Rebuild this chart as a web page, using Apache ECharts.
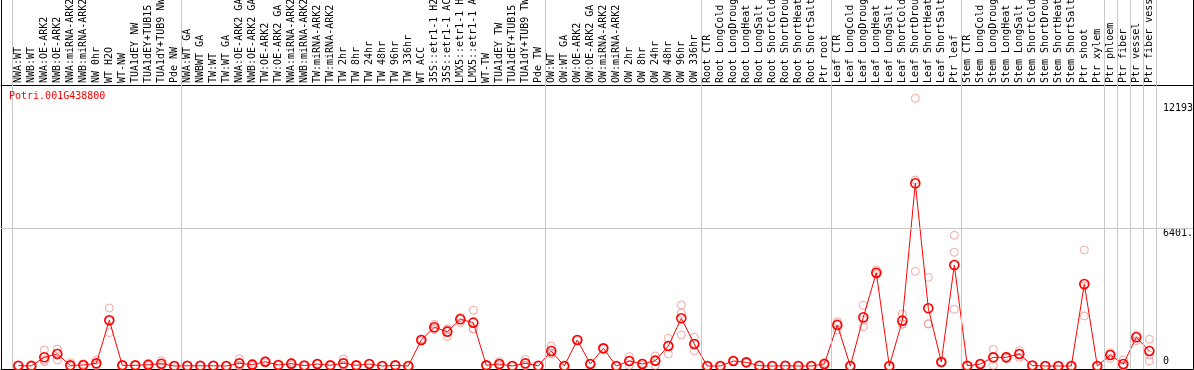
<!DOCTYPE html>
<html>
<head>
<meta charset="utf-8">
<script src="https://cdn.jsdelivr.net/npm/echarts@6/dist/echarts.min.js"></script>
<style>
  html, body { margin: 0; padding: 0; background: #fff; }
  #chart { width: 1194px; height: 370px; }
</style>
</head>
<body>
<div id="chart"></div>
<script>
const gene = 'Potri.001G438800';

const categories = [
  'NWA:WT', 'NWB:WT', 'NWA:OE-ARK2', 'NWB:OE-ARK2', 'NWA:miRNA-ARK2', 'NWB:miRNA-ARK2',
  'NW 0hr', 'WT H2O', 'WT-NW', 'TUA1dEY NW', 'TUA1dEY+TUB15 NW', 'TUA1dY+TUB9 NW', 'Pde NW',
  'NWA:WT GA', 'NWBWT GA', 'TW:WT', 'TW:WT GA', 'NWA:OE-ARK2 GA', 'NWB:OE-ARK2 GA',
  'TW:OE-ARK2', 'TW:OE-ARK2 GA', 'NWA:miRNA-ARK2 GA', 'NWB:miRNA-ARK2 GA', 'TW:miRNA-ARK2',
  'TW:miRNA-ARK2', 'TW 2hr', 'TW 8hr', 'TW 24hr', 'TW 48hr', 'TW 96hr', 'TW 336hr', 'WT ACC',
  '35S::etr1-1 H2O', '35S::etr1-1 ACC', 'LMX5::etr1-1 H2O', 'LMX5::etr1-1 ACC', 'WT-TW',
  'TUA1dEY TW', 'TUA1dEY+TUB15 TW', 'TUA1dY+TUB9 TW', 'Pde TW',
  'OW:WT', 'OW:WT GA', 'OW:OE-ARK2', 'OW:OE-ARK2 GA', 'OW:miRNA-ARK2', 'OW:miRNA-ARK2',
  'OW 2hr', 'OW 8hr', 'OW 24hr', 'OW 48hr', 'OW 96hr', 'OW 336hr',
  'Root CTR', 'Root LongCold', 'Root LongDrought', 'Root LongHeat', 'Root LongSalt',
  'Root ShortCold', 'Root ShortDrought', 'Root ShortHeat', 'Root ShortSalt', 'Ptr root',
  'Leaf CTR', 'Leaf LongCold', 'Leaf LongDrought', 'Leaf LongHeat', 'Leaf LongSalt',
  'Leaf ShortCold', 'Leaf ShortDrought', 'Leaf ShortHeat', 'Leaf ShortSalt', 'Ptr leaf',
  'Stem CTR', 'Stem LongCold', 'Stem LongDrought', 'Stem LongHeat', 'Stem LongSalt',
  'Stem ShortCold', 'Stem ShortDrought', 'Stem ShortHeat', 'Stem ShortSalt', 'Ptr shoot',
  'Ptr xylem', 'Ptr phloem', 'Ptr fiber', 'Ptr vessel', 'Ptr fiber vessel'
];

// mean expression per sample (red line)
const meanValues = [
  15, 5, 404, 558, 30, 46, 124, 2124, 30, 30, 60, 108, 0,
  10, 10, 10, 0, 124, 62, 200, 46, 110, 20, 93, 31, 124, 31, 93, 0, 31, 0,
  1209, 1798, 1596, 2170, 2015, 31, 93, 0, 124, 10,
  697, 0, 1209, 93, 821, 0, 232, 93, 248, 930, 2217, 1023,
  0, 0, 232, 170, 15, 0, 10, 0, 0, 93,
  1906, 0, 2263, 4338, 0, 2107, 8494, 2681, 186, 4694,
  10, 93, 403, 403, 558, 20, 0, 0, 0, 3811, 0,
  511, 93, 1333, 697
];

// replicates (faint circles)
const rep1 = [
  20, 5, 744, 790, 155, 90, 279, 2696, 30, 40, 120, 248, 0,
  10, 10, 15, 0, 340, 120, 250, 60, 180, 20, 110, 40, 325, 40, 110, 0, 40, 0,
  1250, 1938, 1720, 2250, 2589, 40, 200, 0, 310, 10,
  930, 0, 1230, 110, 850, 0, 434, 110, 465, 1286, 2835, 1333,
  0, 0, 250, 200, 20, 0, 10, 0, 0, 160,
  2060, 0, 2821, 4462, 0, 2417, 12443, 4121, 200, 6074,
  20, 120, 775, 450, 713, 30, 0, 0, 0, 5392, 0,
  620, 279, 1441, 1240
];
const rep2 = [
  15, 5, 268, 605, 10, 40, 80, 2124, 30, 30, 50, 60, 0,
  10, 10, 10, 0, 30, 50, 200, 46, 110, 20, 93, 31, 40, 31, 93, 0, 31, 0,
  1209, 1750, 1700, 2245, 1736, 31, 60, 0, 40, 10,
  600, 0, 1200, 93, 821, 0, 232, 140, 248, 945, 2449, 1023,
  0, 0, 232, 170, 15, 0, 10, 0, 0, 93,
  1985, 0, 2140, 4300, 0, 1967, 8645, 1970, 186, 5285,
  10, 93, 400, 403, 558, 20, 0, 0, 0, 3717, 0,
  557, 0, 1380, 511
];
const rep3 = [
  10, 5, 200, 279, 0, 10, 20, 1550, 30, 20, 10, 20, 0,
  10, 10, 5, 0, 0, 20, 150, 30, 40, 20, 80, 20, 10, 20, 80, 0, 20, 0,
  1170, 1700, 1364, 2015, 1720, 20, 20, 0, 20, 10,
  560, 0, 1200, 80, 790, 0, 31, 30, 31, 558, 1441, 713,
  0, 0, 214, 140, 10, 0, 10, 0, 0, 30,
  1673, 0, 1828, 4250, 0, 1937, 4400, 1952, 170, 2635,
  0, 66, 30, 356, 400, 10, 0, 0, 0, 2324, 0,
  356, 0, 1178, 232
];

// separators between sample groups (in category index units)
const groupBounds = [-0.5, 12.5, 40.5, 52.5, 62.5, 72.5, 83.5, 84.5, 85.5, 86.5, 87.5];
const yTickLabels = [6401.5, 12193];
const yZeroLabel = [0];
const yGridValue = 6401.5;

const chart = echarts.init(document.getElementById('chart'));
const mono = 'DejaVu Sans Mono';
const xMin = -1.331, xMax = 90.36;
const yMin = -139.5, yMax = 17013;
const blackLine = { show: true, onZero: false, lineStyle: { color: '#000', width: 1 } };

const repData = [];
[rep1, rep2, rep3].forEach(r => r.forEach((v, i) => repData.push([i, v])));

const option = {
  animation: false,
  title: {
    text: gene,
    left: 9,
    top: 91,
    padding: 0,
    textStyle: { color: '#ff0000', fontFamily: mono, fontSize: 10, fontWeight: 'normal' }
  },
  grid: { left: 1, right: 1, top: 0, bottom: 1, containLabel: false, outerBoundsMode: 'none' },
  xAxis: [
    {
      type: 'value',
      position: 'top',
      offset: -85,
      min: xMin,
      max: xMax,
      axisLine: blackLine,
      axisTick: { show: false },
      splitLine: { show: false },
      axisLabel: {
        customValues: categories.map((_, i) => i),
        formatter: v => categories[Math.round(v)],
        rotate: -90,
        margin: 2,
        color: '#000',
        fontFamily: mono,
        fontSize: 10
      }
    },
    {
      type: 'value',
      position: 'bottom',
      min: xMin,
      max: xMax,
      axisLine: blackLine,
      axisTick: { show: false },
      axisLabel: { show: false },
      splitLine: { show: false }
    }
  ],
  yAxis: [
    {
      type: 'value',
      position: 'right',
      min: yMin,
      max: yMax,
      axisLine: blackLine,
      axisTick: { show: false },
      splitLine: { show: false },
      axisLabel: {
        customValues: yTickLabels,
        formatter: v => String(v),
        inside: true,
        align: 'left',
        verticalAlign: 'top',
        margin: 30,
        color: '#000',
        fontFamily: mono,
        fontSize: 10
      }
    },
    {
      type: 'value',
      position: 'right',
      min: yMin,
      max: yMax,
      axisLine: { show: false, onZero: false },
      axisTick: { show: false },
      splitLine: { show: false },
      axisLabel: {
        customValues: yZeroLabel,
        formatter: v => String(v),
        inside: true,
        align: 'left',
        verticalAlign: 'bottom',
        margin: 30,
        color: '#000',
        fontFamily: mono,
        fontSize: 10
      }
    },
    {
      type: 'value',
      position: 'left',
      min: yMin,
      max: yMax,
      axisLine: blackLine,
      axisTick: { show: false },
      axisLabel: { show: false },
      splitLine: { show: false }
    }
  ],
  series: [
    {
      type: 'scatter',
      xAxisIndex: 0,
      yAxisIndex: 0,
      z: 2,
      symbol: 'circle',
      symbolSize: 8,
      itemStyle: { color: 'rgba(0,0,0,0)', borderColor: '#f09090', borderWidth: 1 },
      data: repData,
      markLine: {
        silent: true,
        symbol: ['none', 'none'],
        label: { show: false },
        lineStyle: { color: '#c8c8c8', type: 'solid', width: 1 },
        data: groupBounds.map(b => ({ xAxis: b })).concat([{ yAxis: yGridValue }])
      }
    },
    {
      type: 'line',
      xAxisIndex: 0,
      yAxisIndex: 0,
      z: 3,
      symbol: 'circle',
      symbolSize: 9,
      showAllSymbol: true,
      lineStyle: { color: '#ff0000', width: 1 },
      itemStyle: { color: 'rgba(0,0,0,0)', borderColor: '#ff0000', borderWidth: 1.6 },
      data: meanValues.map((v, i) => [i, v])
    }
  ]
};

chart.setOption(option);
</script>
</body>
</html>
